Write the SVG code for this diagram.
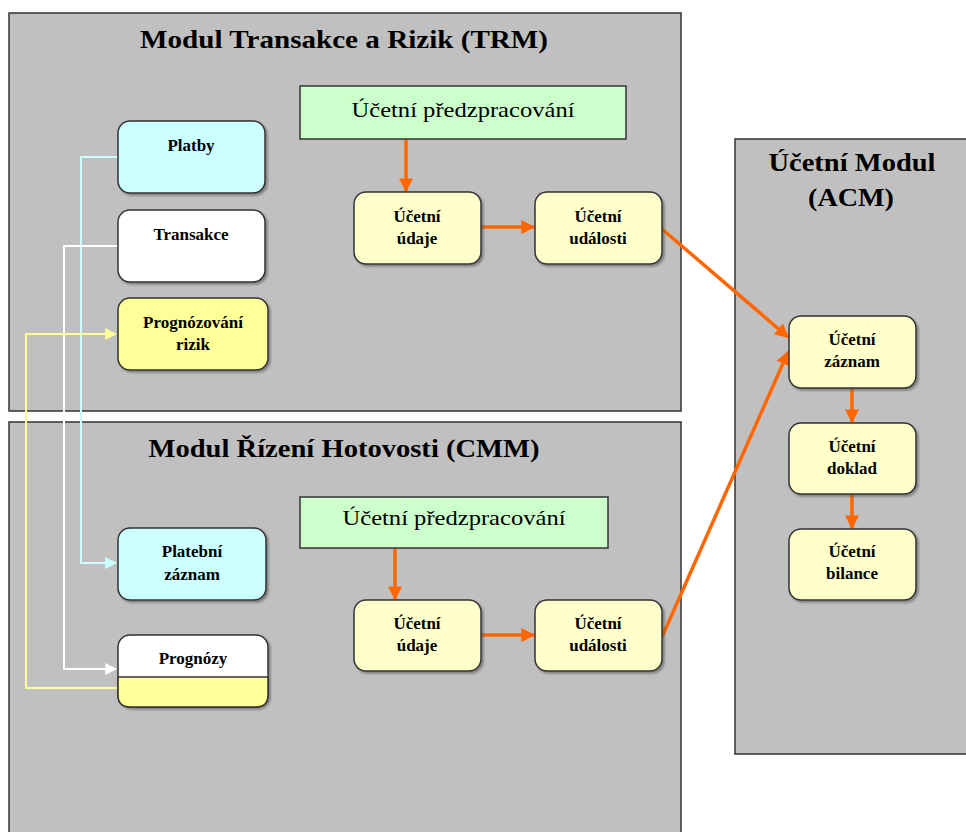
<svg xmlns="http://www.w3.org/2000/svg" width="966" height="832" viewBox="0 0 966 832">
<defs>
<marker id="ao" viewBox="0 0 10 10" refX="9" refY="5" markerWidth="4" markerHeight="4" orient="auto" markerUnits="strokeWidth"><path d="M0,0 L10,5 L0,10 z" fill="#FF6600"/></marker>
<marker id="ac" viewBox="0 0 10 10" refX="9" refY="5" markerWidth="6" markerHeight="6" orient="auto" markerUnits="strokeWidth"><path d="M0,0 L10,5 L0,10 z" fill="#CCFFFF"/></marker>
<marker id="aw" viewBox="0 0 10 10" refX="9" refY="5" markerWidth="6" markerHeight="6" orient="auto" markerUnits="strokeWidth"><path d="M0,0 L10,5 L0,10 z" fill="#FFFFFF"/></marker>
<marker id="ay" viewBox="0 0 10 10" refX="9" refY="5" markerWidth="6" markerHeight="6" orient="auto" markerUnits="strokeWidth"><path d="M0,0 L10,5 L0,10 z" fill="#FFFF99"/></marker>
<filter id="sh" x="-10%" y="-10%" width="130%" height="130%"><feDropShadow dx="2" dy="2" stdDeviation="1" flood-color="#555" flood-opacity="0.6"/></filter>
</defs>
<style>
.panel{fill:#C0C0C0;stroke:#333;stroke-width:1.5}
.title{font-family:"Liberation Serif",serif;font-weight:bold;font-size:25px;fill:#000;text-anchor:middle}
.node{stroke:#333;stroke-width:1.5;filter:url(#sh)}
.t{font-family:"Liberation Serif",serif;font-weight:bold;font-size:17px;fill:#000;text-anchor:middle}
.g{font-family:"Liberation Serif",serif;font-size:22px;fill:#000;text-anchor:middle}
.o{stroke:#FF6600;stroke-width:3.5;fill:none;marker-end:url(#ao)}
.c{fill:none;stroke-width:2}
</style>
<g id="panel-trm">
<rect class="panel" x="9" y="13" width="672" height="398"/>
<text class="title" x="344" y="48" textLength="408" lengthAdjust="spacingAndGlyphs">Modul Transakce a Rizik (TRM)</text>
</g>
<g id="panel-cmm">
<rect class="panel" x="9" y="422" width="672" height="420"/>
<text class="title" x="344" y="457" textLength="391" lengthAdjust="spacingAndGlyphs">Modul Řízení Hotovosti (CMM)</text>
</g>
<g id="panel-acm">
<rect class="panel" x="735" y="139" width="240" height="615"/>
<text class="title" x="852" y="171" textLength="167" lengthAdjust="spacingAndGlyphs">Účetní Modul</text>
<text class="title" x="851" y="206" textLength="86" lengthAdjust="spacingAndGlyphs">(ACM)</text>
</g>
<g id="connectors">
<polyline class="c" stroke="#CCFFFF" points="118,157 81,157 81,563 116,563" marker-end="url(#ac)"/>
<polyline class="c" stroke="#FFFFFF" points="118,246 64,246 64,669 116,669" marker-end="url(#aw)"/>
<polyline class="c" stroke="#FFFF99" points="118,688 26,688 26,334 116,334" marker-end="url(#ay)"/>
<line class="o" x1="406" y1="139" x2="406" y2="191"/>
<line class="o" x1="481" y1="227" x2="534" y2="227"/>
<line class="o" x1="662" y1="229" x2="788" y2="337"/>
<line class="o" x1="395" y1="548" x2="395" y2="599"/>
<line class="o" x1="481" y1="635" x2="534" y2="635"/>
<line class="o" x1="662" y1="637" x2="788" y2="352"/>
<line class="o" x1="852" y1="388" x2="852" y2="422"/>
<line class="o" x1="852" y1="494" x2="852" y2="528"/>
</g>
<g id="platby"><rect class="node" x="118" y="121" width="147" height="72" rx="12" fill="#CCFFFF"/><text class="t" x="191" y="151">Platby</text></g>
<g id="transakce"><rect class="node" x="118" y="210" width="147" height="72" rx="12" fill="#FFFFFF"/><text class="t" x="191" y="240">Transakce</text></g>
<g id="prognozovani"><rect class="node" x="118" y="298" width="150" height="72" rx="12" fill="#FFFF99"/><text class="t" x="193" y="328">Prognózování</text><text class="t" x="193" y="350">rizik</text></g>
<g id="predzprac-trm"><rect x="300" y="86" width="326" height="53" fill="#CCFFCC" stroke="#333" stroke-width="1.5"/><text class="g" x="463" y="117" textLength="223" lengthAdjust="spacingAndGlyphs">Účetní předzpracování</text></g>
<g id="udaje-trm"><rect class="node" x="354" y="192" width="127" height="72" rx="12" fill="#FFFFCC"/><text class="t" x="417" y="222">Účetní</text><text class="t" x="417" y="244">údaje</text></g>
<g id="udalosti-trm"><rect class="node" x="535" y="192" width="127" height="72" rx="12" fill="#FFFFCC"/><text class="t" x="598" y="222">Účetní</text><text class="t" x="598" y="244">události</text></g>
<g id="predzprac-cmm"><rect x="300" y="497" width="308" height="51" fill="#CCFFCC" stroke="#333" stroke-width="1.5"/><text class="g" x="454" y="525" textLength="223" lengthAdjust="spacingAndGlyphs">Účetní předzpracování</text></g>
<g id="platebni-zaznam"><rect class="node" x="118" y="528" width="148" height="72" rx="12" fill="#CCFFFF"/><text class="t" x="192" y="557">Platební</text><text class="t" x="192" y="580">záznam</text></g>
<g id="prognozy"><rect class="node" x="118" y="635" width="150" height="72" rx="12" fill="#FFFFFF"/><path d="M118,677 H268 V695 Q268,707 256,707 H130 Q118,707 118,695 Z" fill="#FFFF99" stroke="#333" stroke-width="1.5"/><text class="t" x="193" y="664">Prognózy</text></g>
<g id="udaje-cmm"><rect class="node" x="354" y="600" width="127" height="71" rx="12" fill="#FFFFCC"/><text class="t" x="417" y="629">Účetní</text><text class="t" x="417" y="651">údaje</text></g>
<g id="udalosti-cmm"><rect class="node" x="535" y="600" width="127" height="71" rx="12" fill="#FFFFCC"/><text class="t" x="598" y="629">Účetní</text><text class="t" x="598" y="651">události</text></g>
<g id="zaznam"><rect class="node" x="789" y="316" width="127" height="72" rx="12" fill="#FFFFCC"/><text class="t" x="852" y="345">Účetní</text><text class="t" x="852" y="367">záznam</text></g>
<g id="doklad"><rect class="node" x="789" y="423" width="127" height="71" rx="12" fill="#FFFFCC"/><text class="t" x="852" y="452">Účetní</text><text class="t" x="852" y="474">doklad</text></g>
<g id="bilance"><rect class="node" x="789" y="529" width="127" height="71" rx="12" fill="#FFFFCC"/><text class="t" x="852" y="557">Účetní</text><text class="t" x="852" y="579">bilance</text></g>
</svg>
